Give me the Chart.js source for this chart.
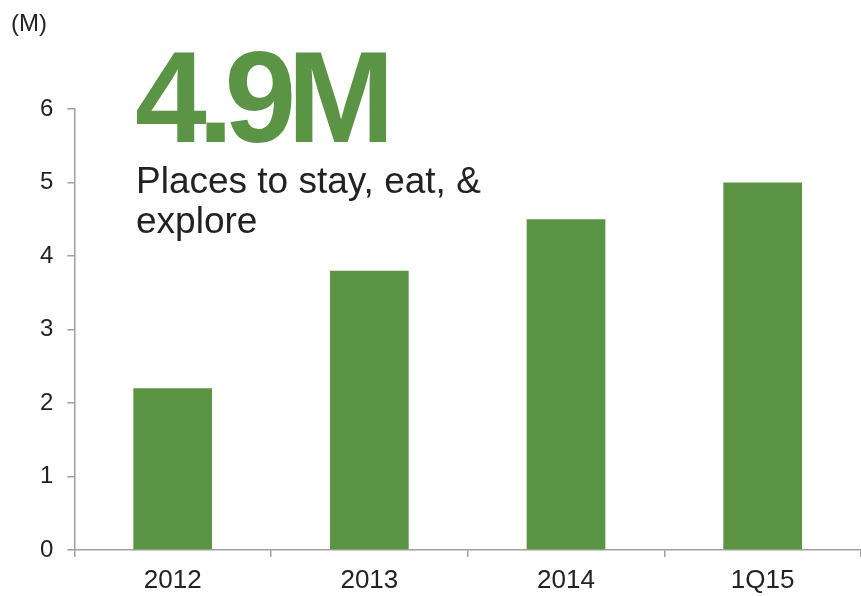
<!DOCTYPE html>
<html>
<head>
<meta charset="utf-8">
<script src="https://cdn.jsdelivr.net/npm/chart.js@4.4.1/dist/chart.umd.min.js"></script>
<style>
  body { margin: 0; background: #fff; }
  #wrap { position: relative; width: 861px; height: 596px; }
</style>
</head>
<body>
<div id="wrap"><canvas id="placesChart"></canvas></div>
<script>
// Places listed (millions)
const periods = ['2012', '2013', '2014', '1Q15'];
const places = [2.2, 3.8, 4.5, 5.0];
const yTicks = [0, 1, 2, 3, 4, 5, 6];

const green = '#5a9444';
const axisGrey = '#a0a0a0';
const font = '"Liberation Sans", Arial, sans-serif';

// Headline text and unit label
const headline = {
  id: 'headline',
  afterDraw(chart) {
    const ctx = chart.ctx;
    ctx.save();
    ctx.textAlign = 'left';
    ctx.textBaseline = 'alphabetic';

    ctx.fillStyle = '#222';
    ctx.font = '24px ' + font;
    ctx.fillText('(M)', 11, 31);

    ctx.fillStyle = green;
    ctx.font = 'bold 129px ' + font;
    ctx.letterSpacing = '-9px';
    ctx.fillText('4.9M', 135, 142);
    ctx.letterSpacing = '0px';

    ctx.fillStyle = '#222';
    ctx.font = '37px ' + font;
    ctx.fillText('Places to stay, eat, &', 136, 193);
    ctx.fillText('explore', 136, 233);
    ctx.restore();
  }
};

const data = {
  labels: periods,
  datasets: [{
    data: places,
    backgroundColor: green,
    borderWidth: 0,
    barPercentage: 0.4,
    categoryPercentage: 1.0
  }]
};

const options = {
  responsive: true,
  maintainAspectRatio: false,
  animation: false,
  layout: {
    padding: { left: 26, right: 0, top: 109, bottom: 0 }
  },
  plugins: {
    legend: { display: false },
    tooltip: { enabled: false }
  },
  scales: {
    x: {
      afterFit(scale) {
        scale.height = 46;
      },
      grid: {
        display: true,
        drawOnChartArea: false,
        drawTicks: true,
        tickLength: 7,
        offset: true,
        color: axisGrey,
        lineWidth: 1.5
      },
      border: { color: axisGrey, width: 1.5 },
      ticks: {
        color: '#222',
        font: { family: font, size: 26 },
        padding: 8
      }
    },
    y: {
      min: 0,
      max: 6,
      afterBuildTicks(scale) {
        scale.ticks = yTicks.map(v => ({ value: v }));
      },
      grid: {
        display: true,
        drawOnChartArea: false,
        drawTicks: true,
        tickLength: 7,
        color: axisGrey,
        lineWidth: 1.5
      },
      border: { color: axisGrey, width: 1.5 },
      ticks: {
        color: '#222',
        font: { family: font, size: 24 },
        padding: 14
      }
    }
  }
};

const config = {
  type: 'bar',
  data: data,
  options: options,
  plugins: [headline]
};

const placesChart = new Chart(
  document.getElementById('placesChart'),
  config
);
</script>
</body>
</html>
